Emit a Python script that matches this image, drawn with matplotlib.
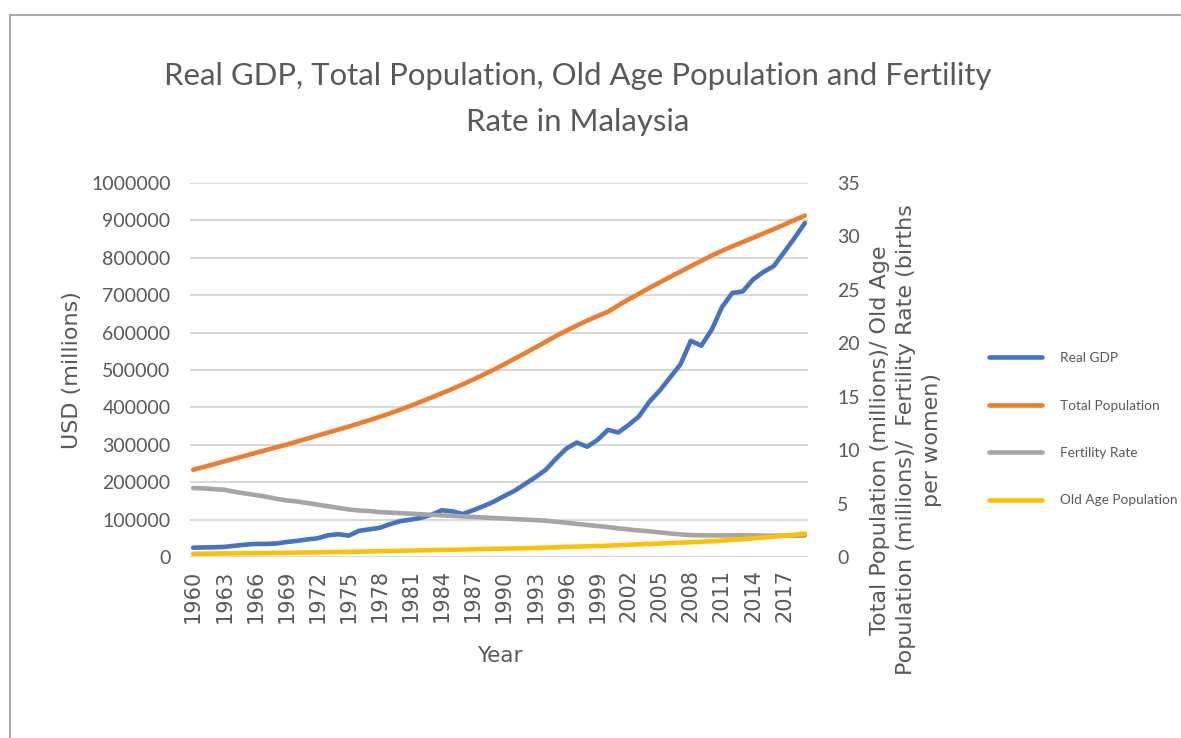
import matplotlib.pyplot as plt
import numpy as np
from matplotlib.lines import Line2D

plt.rcParams['font.family'] = ['Lato', 'DejaVu Sans']

years = list(range(1960, 2020))

real_gdp = [25000, 25500, 26000, 27000, 30000, 33000, 35000, 35000, 36000, 40000,
            43000, 47000, 50000, 58000, 61000, 57000, 70000, 74000, 78000, 88000,
            96000, 100000, 105000, 113000, 125000, 122000, 115000, 125000, 136000, 148000,
            163000, 177000, 195000, 213000, 233000, 263000, 290000, 306000, 295000, 313000,
            340000, 333000, 353000, 376000, 415000, 445000, 480000, 515000, 578000, 565000,
            607000, 668000, 706000, 710000, 742000, 762000, 778000, 815000, 853000, 893000]

total_pop = [8.16, 8.42, 8.68, 8.95, 9.21, 9.47, 9.73, 9.99, 10.25, 10.51,
             10.80, 11.08, 11.36, 11.64, 11.92, 12.20, 12.50, 12.80, 13.12, 13.45,
             13.80, 14.16, 14.54, 14.93, 15.33, 15.73, 16.16, 16.60, 17.06, 17.53,
             18.03, 18.55, 19.07, 19.60, 20.14, 20.68, 21.18, 21.66, 22.12, 22.54,
             22.95, 23.54, 24.11, 24.64, 25.18, 25.69, 26.21, 26.71, 27.22, 27.71,
             28.21, 28.65, 29.07, 29.47, 29.87, 30.27, 30.68, 31.10, 31.53, 31.95]

fertility = [6.45, 6.42, 6.35, 6.30, 6.10, 5.95, 5.80, 5.65, 5.45, 5.30,
             5.20, 5.05, 4.90, 4.75, 4.60, 4.45, 4.35, 4.30, 4.20, 4.15,
             4.10, 4.05, 4.00, 3.95, 3.90, 3.85, 3.80, 3.75, 3.70, 3.65,
             3.60, 3.55, 3.50, 3.45, 3.40, 3.30, 3.20, 3.10, 3.00, 2.90,
             2.80, 2.68, 2.58, 2.48, 2.40, 2.30, 2.20, 2.12, 2.05, 2.03,
             2.02, 2.02, 2.03, 2.03, 2.02, 2.00, 2.00, 2.00, 2.00, 2.00]

old_age = [0.30, 0.31, 0.32, 0.33, 0.34, 0.35, 0.36, 0.37, 0.38, 0.39,
           0.41, 0.42, 0.43, 0.45, 0.46, 0.48, 0.50, 0.52, 0.54, 0.56,
           0.58, 0.60, 0.62, 0.64, 0.66, 0.68, 0.70, 0.72, 0.74, 0.76,
           0.78, 0.80, 0.82, 0.85, 0.88, 0.91, 0.94, 0.97, 1.00, 1.03,
           1.06, 1.10, 1.14, 1.18, 1.22, 1.26, 1.30, 1.34, 1.38, 1.43,
           1.48, 1.54, 1.60, 1.67, 1.74, 1.82, 1.90, 1.99, 2.08, 2.20]

left_ticks = list(range(0, 1000001, 100000))
right_ticks = list(range(0, 36, 5))

txt = '#595959'
grid = '#D9D9D9'

fig = plt.figure(figsize=(11.81, 7.38), dpi=100)
ax = fig.add_axes([190/1181, 1-557/738, 618/1181, 374/738])
ax2 = ax.twinx()

l1, = ax.plot(years, real_gdp, color='#4472C4', lw=3.3, solid_capstyle='round')
l2, = ax2.plot(years, total_pop, color='#ED7D31', lw=3.3, solid_capstyle='round')
l3, = ax2.plot(years, fertility, color='#A5A5A5', lw=3.3, solid_capstyle='round')
l4, = ax2.plot(years, old_age, color='#FFC000', lw=3.3, solid_capstyle='round')

ax.set_xlim(1959.7, 2019.3)
ax.set_ylim(0, 1000000)
ax.set_yticks(left_ticks)
ax.set_yticklabels([str(v) for v in left_ticks])
ax2.set_ylim(0, 35)
ax2.set_yticks(right_ticks)
ax2.set_yticklabels([str(v) for v in right_ticks])
ax.set_xticks(years[::3])
ax.set_xticklabels([str(y) for y in years[::3]], rotation=90, family='DejaVu Sans', fontsize=15)

ax.grid(axis='y', color=grid, lw=1.5)
ax.set_axisbelow(True)
for a in (ax, ax2):
    for s in a.spines.values():
        s.set_visible(False)
    a.tick_params(length=0, colors=txt)
ax.tick_params(axis='y', pad=14, labelsize=14)
ax.tick_params(axis='x', pad=9)
ax2.tick_params(axis='y', pad=21, labelsize=14)

fig.text(578/1181, 1-99/738, 'Real GDP, Total Population, Old Age Population and Fertility\nRate in Malaysia',
         ha='center', va='center', fontsize=22.4, color=txt, linespacing=1.8)
fig.text(72/1181, 1-370/738, 'USD (millions)', rotation=90, ha='center', va='center',
         fontsize=16, color=txt, family='DejaVu Sans')
fig.text(500/1181, 1-656/738, 'Year', ha='center', va='center', fontsize=15.5, color=txt,
         family='DejaVu Sans')
fig.text(906/1181, 1-440/738,
         'Total Population (millions)/ Old Age\nPopulation (millions)/  Fertility Rate (births\nper women)',
         rotation=90, ha='center', va='center', fontsize=16, color=txt, linespacing=1.35,
         family='DejaVu Sans')

fig.legend([l1, l2, l3, l4], ['Real GDP', 'Total Population', 'Fertility Rate', 'Old Age Population'],
           loc='upper left', bbox_to_anchor=(977/1181, 1-340/738), frameon=False,
           fontsize=9.8, labelcolor=txt, handlelength=3.9, handletextpad=1.3, labelspacing=2.6)

# chart border (left and top only visible)
fig.add_artist(Line2D([10/1181, 10/1181], [0, 1-15/738], transform=fig.transFigure, color='#AAAAAA', lw=1.5))
fig.add_artist(Line2D([10/1181, 1], [1-15/738, 1-15/738], transform=fig.transFigure, color='#AAAAAA', lw=1.5))

fig.savefig('out.png', dpi=100)
